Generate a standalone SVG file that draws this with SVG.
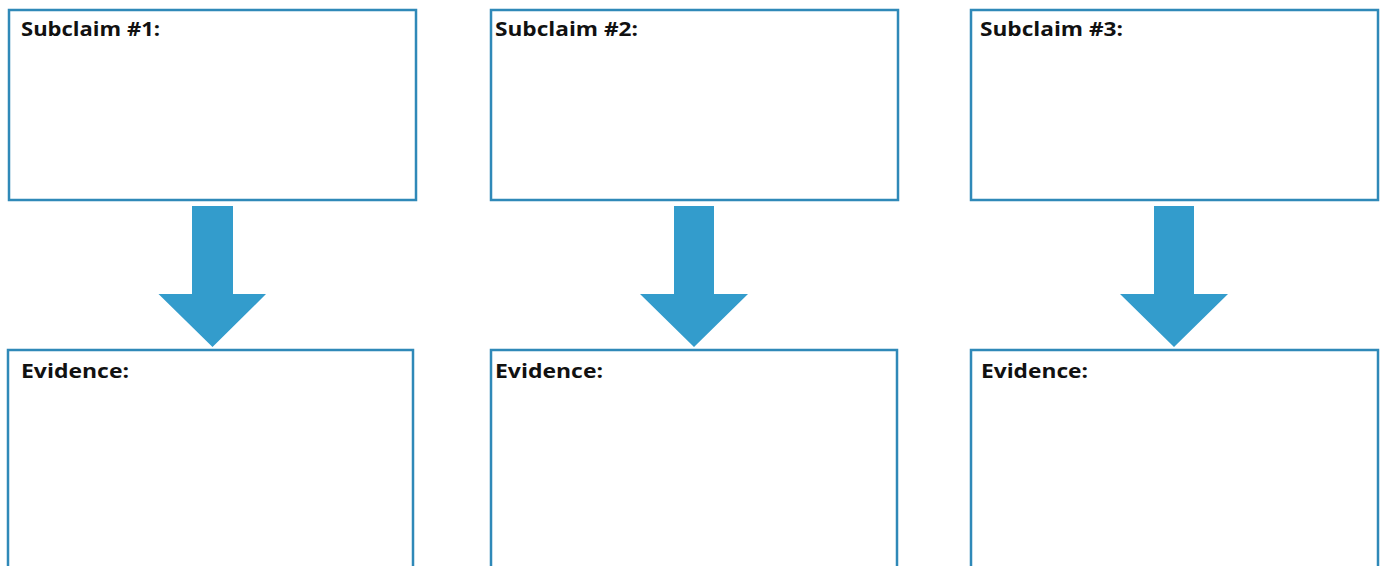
<svg xmlns="http://www.w3.org/2000/svg" width="1382" height="566" viewBox="0 0 1382 566">
<style>
.box{fill:#ffffff;stroke:#2f89b8;stroke-width:2.5}
.arrow{fill:#339ccc}
.lbl{font-family:"Open Sans","Liberation Sans",sans-serif;font-weight:bold;font-size:20px;fill:#111111}
</style>
<rect width="1382" height="566" fill="#ffffff"/>
<g id="subclaim1"><rect class="box" x="9" y="10" width="407" height="190"/><text class="lbl" x="21" y="36" textLength="139" lengthAdjust="spacingAndGlyphs">Subclaim #1:</text></g>
<g id="subclaim2"><rect class="box" x="491" y="10" width="407" height="190"/><text class="lbl" x="495" y="36" textLength="143" lengthAdjust="spacingAndGlyphs">Subclaim #2:</text></g>
<g id="subclaim3"><rect class="box" x="971" y="10" width="407" height="190"/><text class="lbl" x="980" y="36" textLength="143" lengthAdjust="spacingAndGlyphs">Subclaim #3:</text></g>
<g id="evidence1"><rect class="box" x="8" y="350" width="405" height="230"/><text class="lbl" x="21" y="378" textLength="108" lengthAdjust="spacingAndGlyphs">Evidence:</text></g>
<g id="evidence2"><rect class="box" x="491" y="350" width="406" height="230"/><text class="lbl" x="495" y="378" textLength="108" lengthAdjust="spacingAndGlyphs">Evidence:</text></g>
<g id="evidence3"><rect class="box" x="971" y="350" width="407" height="230"/><text class="lbl" x="981" y="378" textLength="107" lengthAdjust="spacingAndGlyphs">Evidence:</text></g>
<g id="connectors">
<polygon class="arrow" points="192,206 233,206 233,294 266,294 212.5,347 158.5,294 192,294"/>
<polygon class="arrow" points="674,206 714,206 714,294 748,294 694,347 640,294 674,294"/>
<polygon class="arrow" points="1154,206 1194,206 1194,294 1228,294 1174,347 1120,294 1154,294"/>
</g>
</svg>
